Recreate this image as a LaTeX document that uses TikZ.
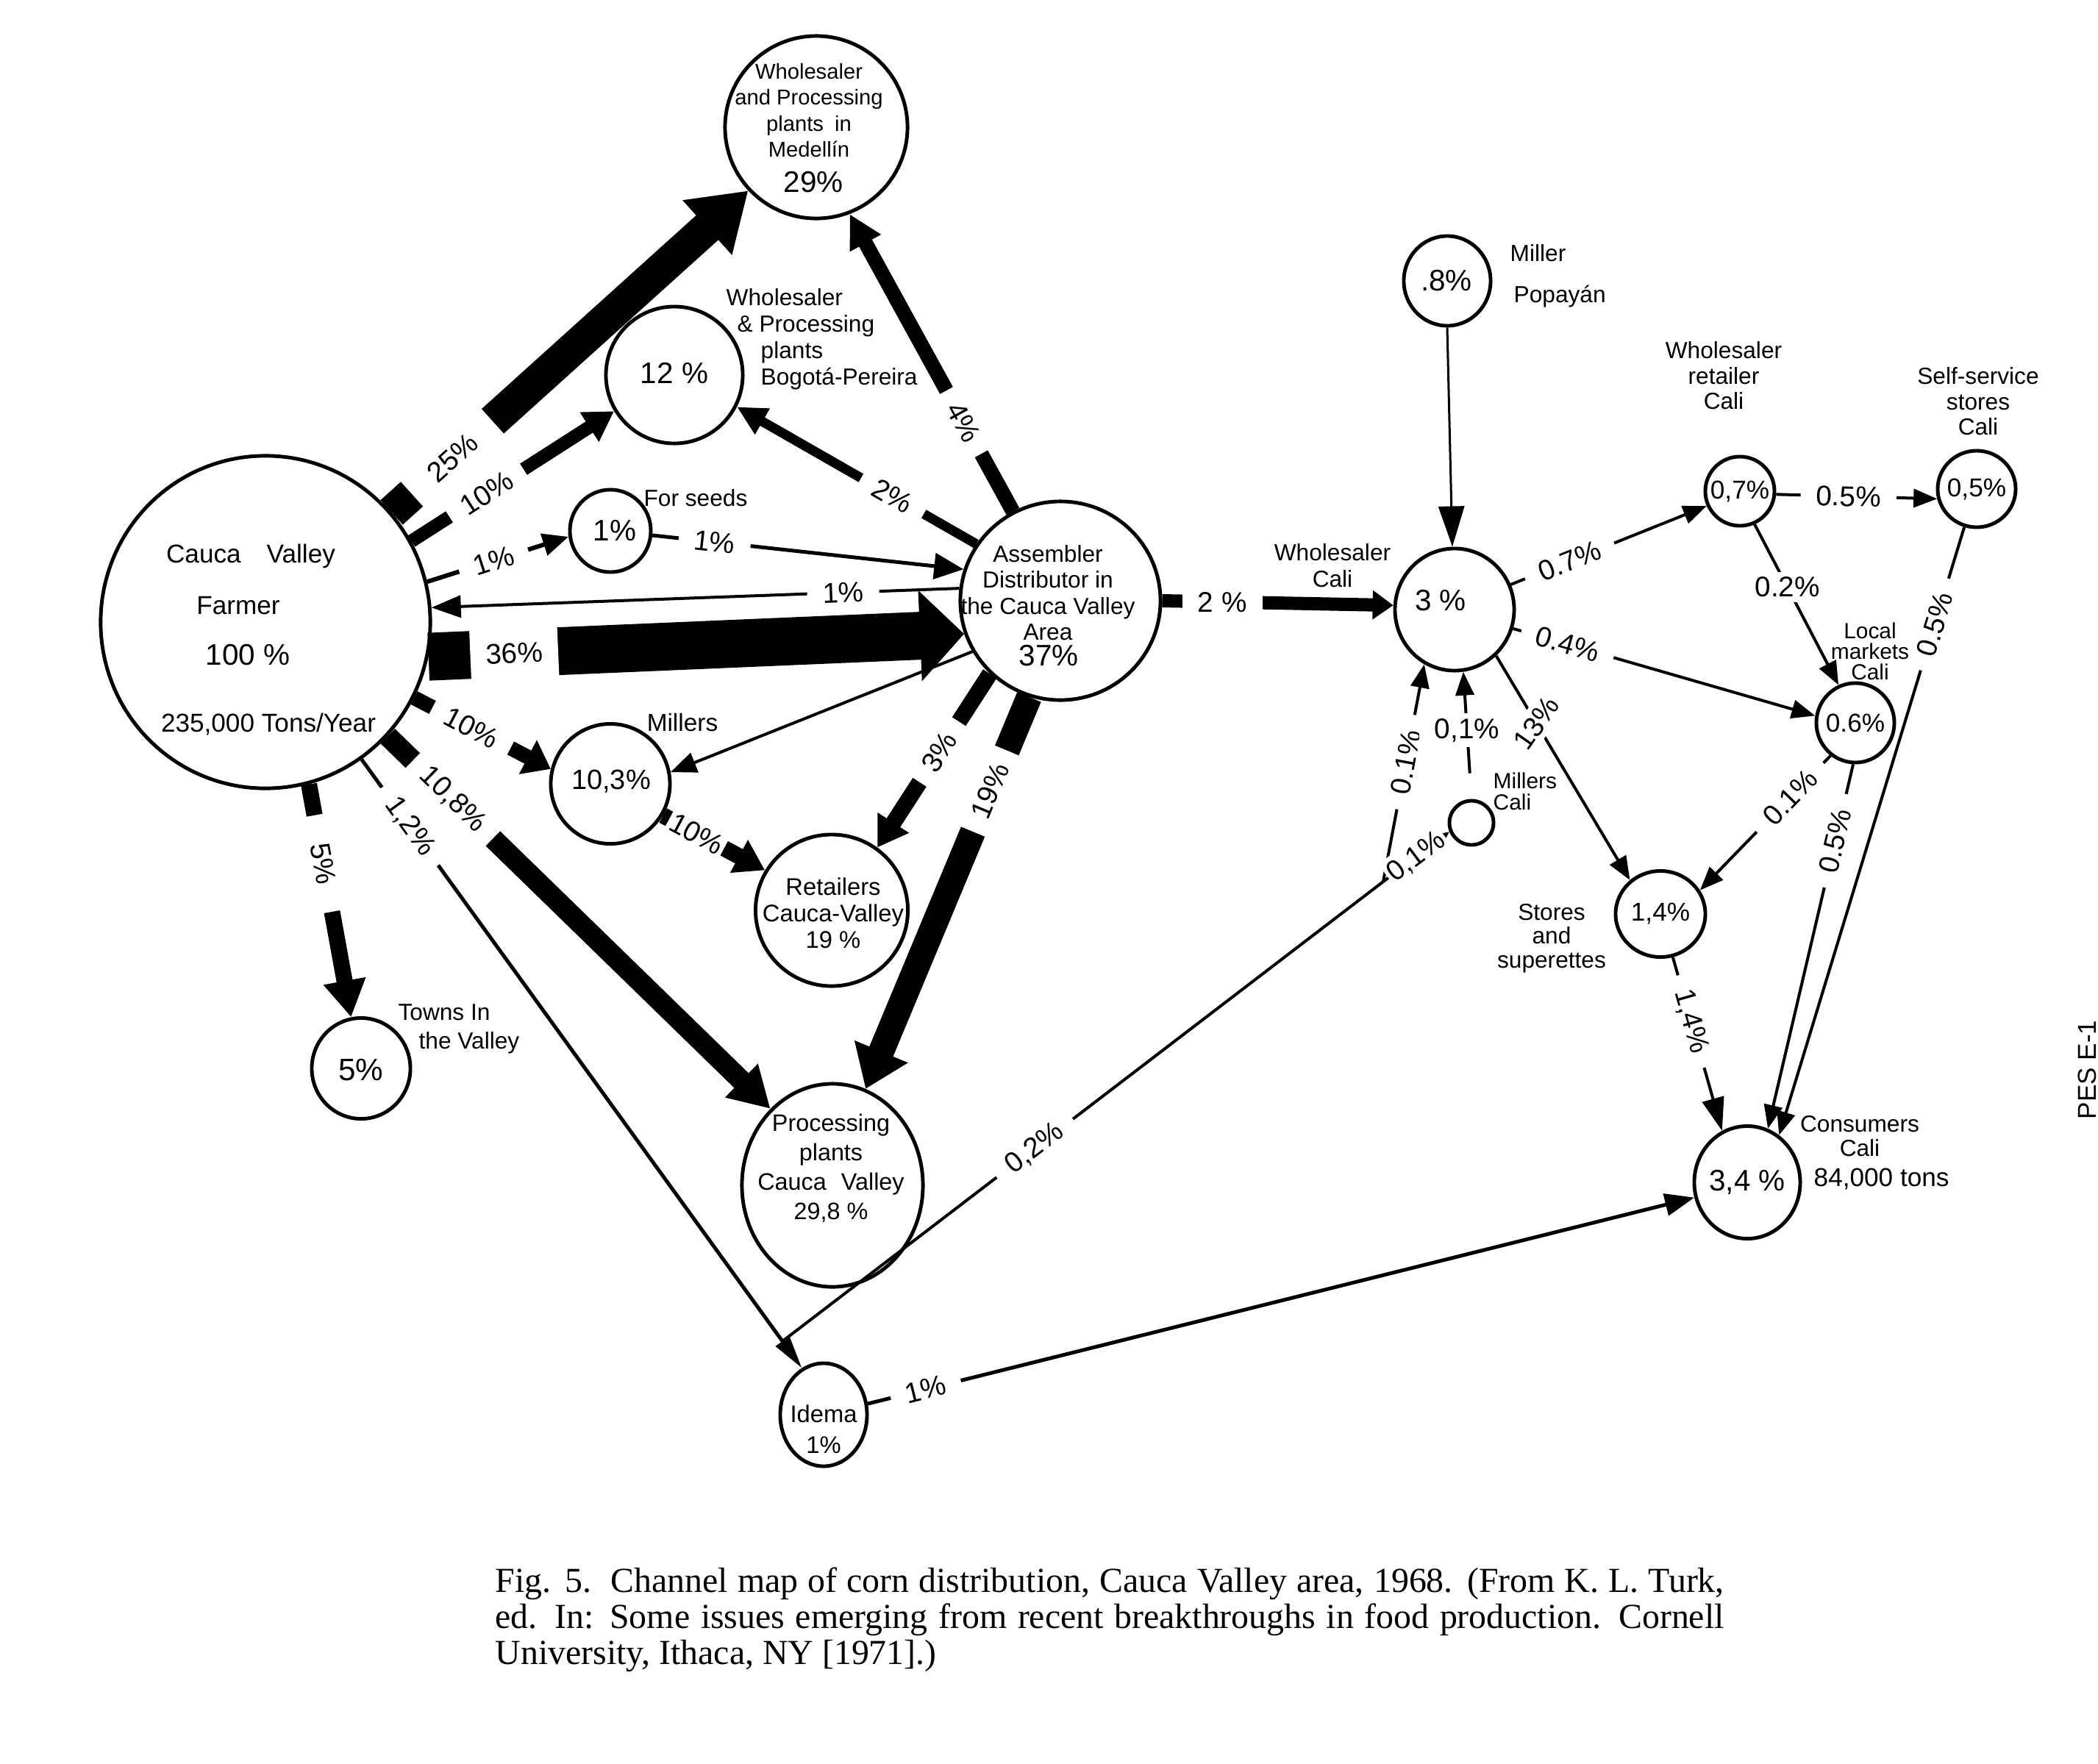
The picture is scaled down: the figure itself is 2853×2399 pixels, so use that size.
\documentclass[tikz,border=0pt]{standalone}
\usepackage{fontspec}
\setmainfont{Liberation Sans}
\newfontfamily\capfont{Liberation Serif}
\usetikzlibrary{arrows.meta,shapes.geometric,calc}
\begin{document}
\begin{tikzpicture}[x=0.01cm,y=-0.01cm,
  bub/.style={draw, ellipse, line width=1.4pt, inner sep=0pt},
  txt/.style={inner sep=0pt, align=center, font=\fontsize{9}{10.2}\selectfont},
  pct/.style={inner sep=0pt, font=\fontsize{11.5}{13}\selectfont},
  spct/.style={inner sep=0pt, font=\fontsize{10}{12}\selectfont},
  lab/.style={fill=white, inner xsep=6pt, inner ysep=2pt, font=\fontsize{11}{12}\selectfont},
  tipto/.style 2 args={-{Triangle[length=#1,width=#2]}},
  thinline/.style={line width=0.04cm, tipto={0.32cm}{0.25cm}}
]
\useasboundingbox (0,0) rectangle (2853,2399);

% ---------------- nodes (circles) ----------------
\node[bub, minimum width=4.48cm, minimum height=4.52cm] (farmer) at (361,846) {};
\node[bub, minimum width=2.48cm, minimum height=2.48cm] (med) at (1110,173) {};
\node[bub, minimum width=1.86cm, minimum height=1.86cm] (bog) at (917,510) {};
\node[bub, minimum width=1.10cm, minimum height=1.12cm] (seeds) at (830,722) {};
\node[bub, minimum width=2.72cm, minimum height=2.70cm] (asm) at (1442,817) {};
\node[bub, minimum width=1.62cm, minimum height=1.66cm] (cali) at (1978,829) {};
\node[bub, minimum width=1.18cm, minimum height=1.22cm] (pop) at (1968,382) {};
\node[bub, minimum width=0.94cm, minimum height=0.94cm] (whr) at (2366,668) {};
\node[bub, minimum width=1.06cm, minimum height=1.04cm] (self) at (2688,665) {};
\node[bub, minimum width=1.06cm, minimum height=1.08cm] (local) at (2523,983) {};
\node[bub, minimum width=1.22cm, minimum height=1.17cm] (stores) at (2258,1243) {};
\node[bub, minimum width=1.44cm, minimum height=1.53cm] (cons) at (2376,1608) {};
\node[bub, minimum width=0.60cm, minimum height=0.60cm] (millcali) at (2001,1119) {};
\node[bub, minimum width=1.62cm, minimum height=1.63cm] (millers) at (830,1066) {};
\node[bub, minimum width=2.07cm, minimum height=2.06cm] (retail) at (1131,1238) {};
\node[bub, minimum width=1.34cm, minimum height=1.37cm] (towns) at (491,1453) {};
\node[bub, minimum width=2.46cm, minimum height=2.76cm] (proc) at (1132,1612) {};
\node[bub, minimum width=1.18cm, minimum height=1.40cm] (idema) at (1120,1924) {};

% ---------------- texts ----------------
\node[txt, font=\fontsize{10}{12}\selectfont] (ft1) at (341,756) {Cauca\hspace{0.35cm}Valley};
\node[txt, font=\fontsize{10}{12}\selectfont] (ft2) at (324,824) {Farmer};
\node[pct] (ft3) at (337,891) {100 \%};
\node[txt, font=\fontsize{10}{12}\selectfont] (ft4) at (365,985) {235,000 Tons/Year};

\node[txt, font=\fontsize{8.3}{10.1}\selectfont] (medtext) at (1100,150) {Wholesaler\\and Processing\\plants\hspace{0.15cm}in\\Medellín};
\node[pct] (medpct) at (1106,248) {29\%};

\node[pct] (bogpct) at (917,507) {12 \%};
\node[txt, align=left, anchor=north west] (bogtext) at (987,392) {Wholesaler\\\hspace*{0.15cm}\& Processing\\\hspace*{0.47cm}plants\\\hspace*{0.47cm}Bogotá-Pereira};

\node[pct] (seedpct) at (836,722) {1\%};
\node[txt] (seedtext) at (946,677) {For seeds};

\node[txt, font=\fontsize{9}{10.1}\selectfont] (asmtext) at (1425,806) {Assembler\\Distributor in\\the Cauca Valley\\Area};
\node[pct] (asmpct) at (1426,892) {37\%};

\node[txt] (calitext) at (1812,769) {Wholesaler\\Cali};
\node[pct] (calipct) at (1959,817) {3 \%};

\node[pct] (poppct) at (1967,382) {.8\%};
\node[txt, anchor=west] (poptext1) at (2053,344) {Miller};
\node[txt, anchor=west] (poptext2) at (2058,403) {Popayán};

\node[txt, font=\fontsize{9}{9.8}\selectfont] (whrtext) at (2344,511) {Wholesaler\\retailer\\Cali};
\node[spct] (whrpct) at (2366,668) {0,7\%};

\node[txt, font=\fontsize{9}{9.8}\selectfont] (selftext) at (2690,546) {Self-service\\stores\\Cali};
\node[spct] (selfpct) at (2688,665) {0,5\%};

\node[txt, font=\fontsize{8.5}{8}\selectfont] (localtext) at (2543,886) {Local\\markets\\Cali};
\node[spct] (localpct) at (2523,983) {0.6\%};

\node[txt, font=\fontsize{9}{9.2}\selectfont] (storestext) at (2110,1276) {Stores\\and\\superettes};
\node[spct] (storespct) at (2258,1243) {1,4\%};

\node[txt, font=\fontsize{9}{9.4}\selectfont] (constext) at (2529,1545) {Consumers\\Cali};
\node[txt, anchor=west, font=\fontsize{10}{12}\selectfont] (constext2) at (2466,1603) {84,000 tons};
\node[pct] (conspct) at (2376,1608) {3,4 \%};

\node[txt, align=left, anchor=north west, font=\fontsize{8.5}{8.3}\selectfont] (millcalitext) at (2030,1050) {Millers\\Cali};

\node[txt, font=\fontsize{9.5}{11}\selectfont] (millerstext) at (928,983) {Millers};
\node[spct, font=\fontsize{10.8}{12}\selectfont] (millerspct) at (831,1063) {10,3\%};

\node[txt, font=\fontsize{9.3}{10.2}\selectfont] (retailtext) at (1133,1242) {Retailers\\Cauca-Valley\\19 \%};

\node[txt] (townstext1) at (604,1377) {Towns In};
\node[txt] (townstext2) at (638,1418) {the Valley};
\node[pct, font=\fontsize{12}{13}\selectfont] (townspct) at (491,1455) {5\%};

\node[txt, font=\fontsize{9.2}{11.4}\selectfont] (proctext) at (1130,1589) {Processing\\plants\\Cauca\hspace{0.2cm}Valley\\29,8 \%};

\node[txt, font=\fontsize{9.3}{12}\selectfont] (idematext) at (1120,1944) {Idema\\1\%};

% ---------------- connectors ----------------
\draw[line width=0.45cm, tipto={0.75cm}{0.95cm}] (farmer.41) -- node[lab,sloped,pos=0.17,minimum height=0.6cm,inner xsep=10pt] (l25) {25\%} (med.223);
\draw[line width=0.18cm, tipto={0.4cm}{0.45cm}] (farmer.29) -- node[lab,sloped,pos=0.37] (l10a) {10\%} (bog.211);
\draw[line width=0.06cm, tipto={0.35cm}{0.3cm}] (farmer.14) -- node[lab,sloped,pos=0.47] (l1a) {1\%} (seeds.188);
\draw[line width=0.05cm, tipto={0.4cm}{0.35cm}] (seeds.354) -- node[lab,sloped,pos=0.2] (l1b) {1\%} (asm.162);
\draw[line width=0.04cm, tipto={0.4cm}{0.3cm}] (asm.173) -- node[lab,sloped,pos=0.22] (l1c) {1\%} (farmer.5);
\draw[line width=0.65cm, tipto={0.6cm}{1.2cm}] (farmer.-12.6) -- node[lab,sloped,pos=0.16,minimum height=0.85cm] (l36) {36\%} (asm.199);
\draw[line width=0.2cm, tipto={0.35cm}{0.5cm}] (farmer.-27) -- node[lab,sloped,pos=0.42] (l10b) {10\%} (millers.166);
\draw[line width=0.28cm, tipto={0.55cm}{0.6cm}] (farmer.-43) -- node[lab,sloped,pos=0.17,minimum height=0.5cm] (l108) {10,8\%} (proc.129);
\draw[line width=0.05cm, tipto={0.45cm}{0.22cm}] (farmer.-55) -- node[lab,sloped,pos=0.11] (l12) {1,2\%} (idema.115);
\draw[line width=0.22cm, tipto={0.5cm}{0.55cm}] (farmer.-75) -- node[lab,sloped,pos=0.34,inner xsep=11pt] (l5) {5\%} (towns.101);
\draw[line width=0.2cm, tipto={0.45cm}{0.45cm}] (asm.118) -- node[lab,sloped,pos=0.3] (l4) {4\%} (med.-69);
\draw[line width=0.13cm, tipto={0.4cm}{0.38cm}] (asm.146.6) -- node[lab,sloped,pos=0.35] (l2a) {2\%} (bog.-27);
\draw[line width=0.18cm, tipto={0.28cm}{0.38cm}] (asm.0) -- node[lab,pos=0.26] (l2b) {2 \%} (cali.176.5);
\draw[line width=0.22cm, tipto={0.4cm}{0.48cm}] (asm.226.6) -- node[lab,sloped,pos=0.45] (l3) {3\%} (retail.54.6);
\draw[line width=0.35cm, tipto={0.55cm}{0.75cm}] (asm.252) -- node[lab,sloped,pos=0.24,minimum height=0.5cm] (l19) {19\%} (proc.71);
\draw[line width=0.04cm, tipto={0.35cm}{0.28cm}] (asm.210) -- (millers.11);
\draw[line width=0.22cm, tipto={0.4cm}{0.48cm}] (millers.-31) -- node[lab,sloped,pos=0.33,inner xsep=1pt] (l10c) {10\%} (retail.149);
\draw[line width=0.03cm, tipto={0.55cm}{0.35cm}] (pop.-90) -- (cali.92);

\draw[thinline] (cali.24) -- node[lab,sloped,pos=0.3] (l07) {0.7\%} (whr.204);
\draw[thinline] (whr.-5) -- node[lab,sloped,pos=0.45] (l05a) {0.5\%} (self.194.5);
\draw[thinline] (whr.-66.6) -- node[lab,pos=0.39] (l02) {0.2\%} (local.114);
\draw[thinline] (cali.-18.4) -- node[lab,sloped,pos=0.18] (l04) {0.4\%} (local.170);
\draw[thinline] (cali.-48) -- node[lab,rotate=55,pos=0.3,inner xsep=3pt] (l13) {13\%} (stores.132);
\draw[thinline] (local.233.6) -- node[lab,sloped,pos=0.31] (l01a) {0.1\%} (stores.31);
\draw[thinline] (local.-93) -- node[lab,sloped,pos=0.21] (l05b) {0.5\%} (cons.69);
\draw[thinline] (self.252) -- node[lab,sloped,pos=0.16] (l05c) {0.5\%} (cons.56);
\draw[thinline, tipto={0.45cm}{0.3cm}] (stores.-74) -- node[lab,sloped,pos=0.37] (l14) {1,4\%} (cons.116);
\draw[line width=0.05cm, tipto={0.4cm}{0.3cm}] (idema.14.5) -- node[lab,sloped,pos=0.07] (l1d) {1\%} (cons.196.7);

\coordinate (J1) at ($(farmer.-55)!0.956!(idema.115)$);
\coordinate (J2) at (1881,1199);
\draw[line width=0.04cm] (J1) -- node[lab,sloped,pos=0.42] (l02b) {0,2\%} (J2);
\draw[thinline] (J2) -- node[lab,sloped,pos=0.55] (l01b) {0.1\%} (cali.241);
\draw[line width=0.04cm, tipto={0.2cm}{0.18cm}] (J2) -- node[lab,sloped,pos=0.5,inner xsep=1pt] (l01c) {0,1\%} (millcali.202);
\draw[thinline, shorten <=0.35cm] (millcali.90) -- node[lab,pos=0.54] (l01d) {0,1\%} (cali.278);

% ---------------- caption ----------------
\node[anchor=north west, inner sep=0pt, align=left, font=\capfont\fontsize{13.6}{13.9}\selectfont] (cap) at (673,2131)
 {\makebox[16.7cm][s]{Fig. 5.\ \ Channel map of corn distribution, Cauca Valley area, 1968. (From K. L. Turk,}\\
  \makebox[16.7cm][s]{ed. In: Some issues emerging from recent breakthroughs in food production. Cornell}\\
  University, Ithaca, NY [1971].)};

\node[rotate=90, inner sep=0pt, font=\fontsize{10}{12}\selectfont] (stamp) at (2838,1455) {PES E-1};
\end{tikzpicture}
\end{document}
